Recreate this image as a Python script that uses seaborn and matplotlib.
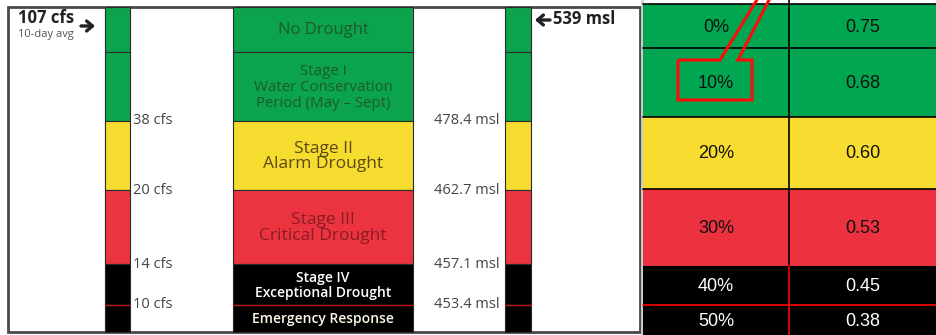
import matplotlib
matplotlib.use("Agg")
import matplotlib.pyplot as plt
import numpy as np
import pandas as pd
import seaborn as sns

# ---------------- data ----------------
stages = ["No Drought",
          "Stage I\nWater Conservation\nPeriod (May \u2013 Sept)",
          "Stage II\nAlarm Drought",
          "Stage III\nCritical Drought",
          "Stage IV\nExceptional Drought",
          "Emergency Response"]
cfs_thresholds = [38, 20, 14, 10]
msl_thresholds = [478.4, 462.7, 457.1, 453.4]
current_flow_cfs = 107
current_level_msl = 539
reduction_pct = [0, 10, 20, 30, 40, 50]
multiplier = [0.75, 0.68, 0.60, 0.53, 0.45, 0.38]

# ---------------- styles ----------------
band_colors = ["#0ba44c", "#0ba44c", "#f6dc2f", "#eb3440", "#000000", "#000000"]
table_colors = ["#00a650", "#00a650", "#f8dd30", "#ec323f", "#000000", "#000000"]
stage_text_colors = ["#1d5a2e", "#1d5a2e", "#5b4a12", "#8a1c24", "#ffffff", "#fff8e8"]
stage_text_sizes = [12, 10.8, 12.5, 12.5, 10, 10]
stage_text_weights = ["normal", "normal", "normal", "normal", "semibold", "semibold"]
table_text_colors = ["#111111", "#111111", "#111111", "#111111", "#ffffff", "#ffffff"]

# ---------------- layout (pixel units) ----------------
W, H = 936, 335
band_edges = [7, 52, 121, 190, 264, 305, 332]
table_edges = [4, 48, 117, 189, 266, 305, 336]
frame = (8, 640)
col_left = (105, 130)
col_mid = (233, 413)
col_right = (505, 531)
tab_cols = [(643, 789), (789, 937)]

sns.set_theme(style="white")
plt.rcParams["font.family"] = ["Open Sans", "DejaVu Sans"]

fig = plt.figure(figsize=(W / 100, H / 100), dpi=100)
ax = fig.add_axes([0, 0, 1, 1])
ax.set_xlim(0, W)
ax.set_ylim(H, 0)
ax.axis("off")

tops = np.array(band_edges[:-1])
heights = np.diff(band_edges)

# outer white panel with frame
ax.bar(frame[0], band_edges[-1] - band_edges[0], width=frame[1] - frame[0],
       bottom=band_edges[0], align="edge", color="white", edgecolor="#4a4a4a",
       linewidth=2, zorder=1)
ax.plot([col_left[0], col_left[0]], [band_edges[0], band_edges[-1]], color="#777777", lw=0.8, zorder=2)

for (x0, x1) in [col_left, col_mid, col_right]:
    ax.bar(np.full(len(tops), x0), heights, width=x1 - x0, bottom=tops, align="edge",
           color=band_colors, edgecolor="#2a2a2a", linewidth=0.8, zorder=2)
    ax.plot([x0, x1], [band_edges[5], band_edges[5]], color="#c0141c", lw=1.0, zorder=3)

# stage labels
xm = (col_mid[0] + col_mid[1]) / 2
for i, s in enumerate(stages):
    yc = (band_edges[i] + band_edges[i + 1]) / 2
    ls = 1.05 if i in (1, 4) else 0.95
    ax.text(xm, yc + 1, s, ha="center", va="center", fontsize=stage_text_sizes[i],
            color=stage_text_colors[i], fontweight=stage_text_weights[i],
            linespacing=ls, zorder=4)

# threshold labels
for i, (c, m) in enumerate(zip(cfs_thresholds, msl_thresholds)):
    y = band_edges[i + 2]
    ax.text(col_left[1] + 3, y, f"{c} cfs", ha="left", va="center", fontsize=10.5,
            color="#444444", zorder=4)
    ax.text(col_right[0] - 5, y, f"{m} msl", ha="right", va="center", fontsize=10.5,
            color="#444444", zorder=4)

# current values
ax.text(18, 18, f"{current_flow_cfs} cfs", ha="left", va="center", fontsize=12,
        fontweight="bold", color="#222222", zorder=4)
ax.text(18, 34, "10-day avg", ha="left", va="center", fontsize=8,
        color="#555555", zorder=4)
ax.annotate("", xy=(95, 26), xytext=(81, 26),
            arrowprops=dict(arrowstyle="->,head_length=0.35,head_width=0.3",
                            lw=2.4, color="#222222", shrinkA=0, shrinkB=0), zorder=4)
ax.annotate("", xy=(535, 20), xytext=(550, 20),
            arrowprops=dict(arrowstyle="->,head_length=0.35,head_width=0.3",
                            lw=2.4, color="#222222", shrinkA=0, shrinkB=0), zorder=4)
ax.text(553, 19, f"{current_level_msl} msl", ha="left", va="center", fontsize=12,
        fontweight="bold", color="#222222", zorder=4)

# ---------------- right table ----------------
ax.plot([641.5, 641.5], [0, H], color="#cfcfcf", lw=2, zorder=1)
t_tops = np.array(table_edges[:-1])
t_h = np.diff(table_edges)
table = pd.DataFrame({"pct": reduction_pct, "mult": multiplier})
for (x0, x1) in tab_cols:
    ax.bar(np.full(len(t_tops), x0), t_h, width=x1 - x0, bottom=t_tops, align="edge",
           color=table_colors, edgecolor="none", zorder=2)
for j, y in enumerate(table_edges[:-1]):
    if j == 4:
        continue
    col = "#ff0000" if j == 5 else "#000000"
    ax.plot([tab_cols[0][0], W], [y, y], color=col, lw=1.2, zorder=3)
ax.plot([789, 789], [0, table_edges[4]], color="#000000", lw=1.2, zorder=3)
ax.plot([789, 789], [table_edges[4], H], color="#ff0000", lw=1.2, zorder=3)

for i, row in table.iterrows():
    yc = (table_edges[i] + table_edges[i + 1]) / 2 + 1
    if i == 5:
        yc = 322
    for (x0, x1), txt in zip(tab_cols, [f"{row.pct:.0f}%", f"{row.mult:.2f}"]):
        ax.text((x0 + x1) / 2, yc, txt, ha="center", va="center", fontsize=13,
                family=["Liberation Sans", "DejaVu Sans"], color=table_text_colors[i], zorder=4)

# red callout around 10%
callout = [(678, 60), (720, 60), (758, -2), (770, -2), (738, 60), (752, 60),
           (752, 100), (678, 100)]
ax.add_patch(plt.Polygon(callout, closed=True, fill=False, edgecolor="#ff0a0a",
                         linewidth=2.2, joinstyle="miter", zorder=5))

fig.savefig("out.png", dpi=100)
